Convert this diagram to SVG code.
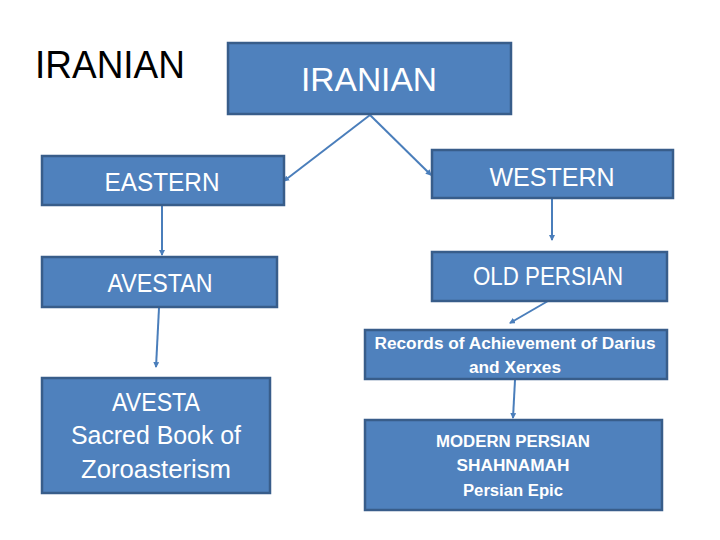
<svg xmlns="http://www.w3.org/2000/svg" width="720" height="540" viewBox="0 0 720 540">
<style>
.box{fill:#4F81BD;stroke:#385D8A;stroke-width:2.5}
.t{fill:#fff;font-family:"Liberation Sans","Open Sans",sans-serif;text-anchor:middle}
.b{font-weight:bold}
.con{stroke:#4A7EBB;stroke-width:2;fill:none;marker-end:url(#ah)}
</style>
<defs>
<marker id="ah" markerWidth="3" markerHeight="3" refX="2.5" refY="1.5" orient="auto" markerUnits="strokeWidth">
<path d="M0,0 L3,1.5 L0,3 Z" fill="#4A7EBB"/>
</marker>
</defs>
<rect width="720" height="540" fill="#fff"/>
<text x="35" y="78" font-family="Liberation Sans,sans-serif" font-size="38" fill="#000" textLength="150" lengthAdjust="spacingAndGlyphs">IRANIAN</text>
<g id="connectors">
<line class="con" x1="370" y1="115" x2="284" y2="181"/>
<line class="con" x1="370" y1="115" x2="431" y2="175"/>
<line class="con" x1="162" y1="206" x2="162" y2="255"/>
<line class="con" x1="159" y1="308" x2="156" y2="367"/>
<line class="con" x1="552" y1="199" x2="552" y2="240"/>
<line class="con" x1="548" y1="301" x2="510" y2="323"/>
<line class="con" x1="515" y1="380" x2="513" y2="418"/>
</g>
<g id="iranian">
<rect class="box" x="228" y="43" width="283" height="71"/>
<text class="t" x="369" y="91" font-size="33" textLength="136" lengthAdjust="spacingAndGlyphs">IRANIAN</text>
</g>
<g id="eastern">
<rect class="box" x="42" y="156" width="242" height="49"/>
<text class="t" x="162" y="191" font-size="26" textLength="115" lengthAdjust="spacingAndGlyphs">EASTERN</text>
</g>
<g id="western">
<rect class="box" x="432" y="150" width="241" height="48"/>
<text class="t" x="552" y="186" font-size="26" textLength="125" lengthAdjust="spacingAndGlyphs">WESTERN</text>
</g>
<g id="avestan">
<rect class="box" x="42" y="257" width="235" height="50"/>
<text class="t" x="160" y="292" font-size="26" textLength="105" lengthAdjust="spacingAndGlyphs">AVESTAN</text>
</g>
<g id="oldpersian">
<rect class="box" x="432" y="252" width="235" height="49"/>
<text class="t" x="548" y="285" font-size="26" textLength="150" lengthAdjust="spacingAndGlyphs">OLD PERSIAN</text>
</g>
<g id="avesta">
<rect class="box" x="42" y="378" width="228" height="115"/>
<text class="t" x="156" y="411" font-size="25" textLength="88" lengthAdjust="spacingAndGlyphs">AVESTA</text>
<text class="t" x="156" y="444" font-size="25" textLength="170" lengthAdjust="spacingAndGlyphs">Sacred Book of</text>
<text class="t" x="156" y="478" font-size="25" textLength="150" lengthAdjust="spacingAndGlyphs">Zoroasterism</text>
</g>
<g id="records">
<rect class="box" x="365" y="330" width="302" height="49"/>
<text class="t b" x="515" y="349" font-size="16" textLength="281" lengthAdjust="spacingAndGlyphs">Records of Achievement of Darius</text>
<text class="t b" x="515" y="373" font-size="16" textLength="92" lengthAdjust="spacingAndGlyphs">and Xerxes</text>
</g>
<g id="modern">
<rect class="box" x="365" y="420" width="297" height="90"/>
<text class="t b" x="513" y="447" font-size="16" textLength="154" lengthAdjust="spacingAndGlyphs">MODERN PERSIAN</text>
<text class="t b" x="513" y="471" font-size="16" textLength="113" lengthAdjust="spacingAndGlyphs">SHAHNAMAH</text>
<text class="t b" x="513" y="496" font-size="16" textLength="100" lengthAdjust="spacingAndGlyphs">Persian Epic</text>
</g>
</svg>
